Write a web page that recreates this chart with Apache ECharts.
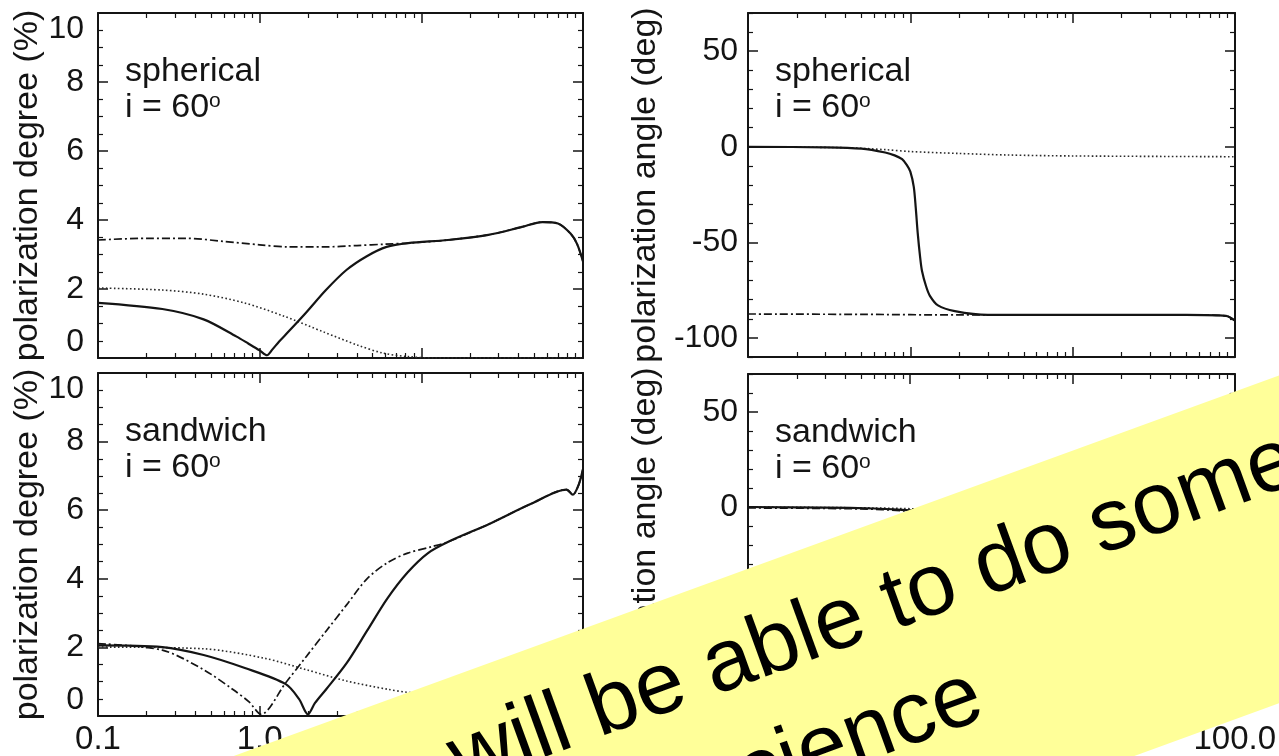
<!DOCTYPE html>
<html>
<head>
<meta charset="utf-8">
<script src="https://cdn.jsdelivr.net/npm/echarts@6/dist/echarts.min.js"></script>
<style>
  html, body { margin: 0; padding: 0; background: #ffffff; }
  #chart { width: 1279px; height: 756px; }
</style>
</head>
<body>
<div id="chart"></div>
<script>
// ---- axis ticks and labels ----
const xMajorTicks = [0.1, 1, 10, 100];
const xMinorTicks = [0.2, 0.3, 0.4, 0.5, 0.6, 0.7, 0.8, 0.9, 2, 3, 4, 5, 6, 7, 8, 9, 20, 30, 40, 50, 60, 70, 80, 90];
const degreeTicks = [0, 2, 4, 6, 8, 10];
const degreeMinorTicks = [0.5, 1, 1.5, 2.5, 3, 3.5, 4.5, 5, 5.5, 6.5, 7, 7.5, 8.5, 9, 9.5];
const angleTicks = [-100, -50, 0, 50];
const angleMinorTicks = [-110, -90, -80, -70, -60, -40, -30, -20, -10, 10, 20, 30, 40, 60, 70];

// ---- spherical geometry, polarization degree (%) ----
const sphDegreeSolid = [[0.1, 1.6], [0.25, 1.42], [0.45, 1.12], [0.72, 0.62], [0.85, 0.42], [1.0, 0.22], [1.11, 0.08], [1.2, 0.25], [1.32, 0.48], [1.45, 0.68], [1.94, 1.32], [2.57, 1.97], [3.44, 2.55], [4.6, 2.95], [6.1, 3.22], [8.3, 3.33], [14.6, 3.42], [26, 3.57], [42, 3.8], [56, 3.94], [70, 3.9], [84, 3.6], [92, 3.3], [100, 2.8]];
const sphDegreeDashDot = [[0.1, 3.42], [0.2, 3.47], [0.35, 3.47], [0.6, 3.38], [1.0, 3.28], [1.5, 3.22], [2.5, 3.22], [4, 3.26], [6, 3.3], [8.3, 3.33], [14.6, 3.42], [26, 3.57], [42, 3.8], [56, 3.94], [70, 3.9], [84, 3.6], [92, 3.3], [100, 2.8]];
const sphDegreeDotted = [[0.1, 2.03], [0.25, 1.97], [0.45, 1.85], [0.8, 1.6], [1.4, 1.22], [2.5, 0.75], [4, 0.38], [5.8, 0.14], [8.3, 0.04], [12, 0], [100, 0]];

// ---- spherical geometry, polarization angle (deg) ----
const sphAngleSolid = [[0.1, 0], [0.3, -0.3], [0.5, -1], [0.7, -3], [0.8, -4.5], [0.89, -6.5], [0.95, -9.5], [1.0, -13], [1.05, -21], [1.08, -32], [1.11, -45], [1.15, -58], [1.18, -65], [1.25, -73], [1.32, -78], [1.48, -83], [1.88, -86], [3, -88], [10, -88], [50, -88], [88, -88.5], [100, -91]];
const sphAngleDashDot = [[0.1, -87.5], [0.5, -87.7], [2, -88], [10, -88], [50, -88], [88, -88.5], [100, -91]];
const sphAngleDotted = [[0.1, 0], [0.4, -0.5], [0.7, -1.5], [1, -2.5], [2, -3.5], [4, -4.3], [10, -4.8], [100, -5.2]];

// ---- sandwich geometry, polarization degree (%) ----
const sandDegreeSolid = [[0.1, 2.06], [0.25, 2.01], [0.45, 1.78], [0.81, 1.4], [1.45, 0.93], [1.75, 0.5], [1.99, 0.05], [2.2, 0.38], [2.58, 0.78], [3.45, 1.54], [4.61, 2.48], [6.17, 3.43], [8.24, 4.19], [11, 4.75], [14.7, 5.08], [26.3, 5.6], [47, 6.17], [79, 6.6], [86.5, 6.45], [94, 6.74], [100, 7.2]];
const sandDegreeDashDot = [[0.1, 2.11], [0.25, 1.92], [0.45, 1.35], [0.68, 0.78], [0.86, 0.41], [1.02, 0.05], [1.45, 0.97], [1.94, 1.73], [2.58, 2.48], [3.45, 3.24], [4.61, 4.0], [6.17, 4.47], [8.24, 4.75], [11.7, 4.94], [14.7, 5.08], [26.3, 5.6], [47, 6.17], [79, 6.6], [86.5, 6.45], [94, 6.74], [100, 7.2]];
const sandDegreeDotted = [[0.1, 2.01], [0.45, 1.96], [1.08, 1.68], [1.94, 1.35], [3.45, 1.02], [6.17, 0.78], [8.24, 0.69], [12, 0.62]];

// ---- sandwich geometry, polarization angle (deg) ----
const sandAngleSolid = [[0.1, 0], [0.3, -0.3], [0.6, -0.8], [0.9, -1.5], [1.1, -2]];
const sandAngleDashDot = [[0.1, -0.5], [0.5, -1], [0.9, -2], [1.1, -3]];
const sandAngleDotted = [[0.1, 0], [0.6, -0.5], [1.1, -1]];

const FONT = '"Liberation Sans", Arial, Helvetica, sans-serif';
const INK = '#141414';

// four framed panels (2 x 2)
const panels = [
  { grid: { left: 98, top: 13, width: 485, height: 345 }, yMin: 0, yMax: 10, yMajor: degreeTicks, yMinor: degreeMinorTicks,
    yName: 'polarization degree (%)', nameGap: 50, labelMargin: 14, edgeAlign: true, xLabels: false,
    series: [sphDegreeDotted, sphDegreeDashDot, sphDegreeSolid], tag: 'spherical' },
  { grid: { left: 748, top: 13, width: 487, height: 344 }, yMin: -110, yMax: 70, yMajor: angleTicks, yMinor: angleMinorTicks,
    yName: 'polarization angle (deg)', nameGap: 85, labelMargin: 10, edgeAlign: false, xLabels: false,
    series: [sphAngleDotted, sphAngleDashDot, sphAngleSolid], tag: 'spherical' },
  { grid: { left: 98, top: 373, width: 485, height: 343 }, yMin: 0, yMax: 10, yMajor: degreeTicks, yMinor: degreeMinorTicks,
    yName: 'polarization degree (%)', nameGap: 50, labelMargin: 14, edgeAlign: true, xLabels: true,
    series: [sandDegreeDotted, sandDegreeDashDot, sandDegreeSolid], tag: 'sandwich' },
  { grid: { left: 748, top: 374, width: 487, height: 343 }, yMin: -110, yMax: 70, yMajor: angleTicks, yMinor: angleMinorTicks,
    yName: 'polarization angle (deg)', nameGap: 85, labelMargin: 10, edgeAlign: false, xLabels: true,
    series: [sandAngleDotted, sandAngleDashDot, sandAngleSolid], tag: 'sandwich' }
];

const frameLine = { show: true, onZero: false, lineStyle: { color: INK, width: 2 } };
const majorTick = (vals) => ({ show: true, inside: true, length: 10, customValues: vals, lineStyle: { color: INK, width: 1.5 } });
const minorTick = (vals) => ({ show: true, inside: true, length: 5, customValues: vals, lineStyle: { color: INK, width: 1.2 } });

const grids = [], xAxes = [], yAxes = [], series = [];

panels.forEach((p, gi) => {
  grids.push(p.grid);
  const xBase = { gridIndex: gi, type: 'log', logBase: 10, min: 0.1, max: 100, splitLine: { show: false } };
  // bottom frame: major + minor ticks
  xAxes.push(Object.assign({}, xBase, {
    position: 'bottom', axisLine: frameLine, axisTick: majorTick(xMajorTicks),
    axisLabel: { show: p.xLabels, customValues: xMajorTicks, formatter: (v) => Number(v).toFixed(1),
      fontSize: 33, fontFamily: FONT, color: INK, margin: 7 }
  }));
  xAxes.push(Object.assign({}, xBase, { position: 'bottom', axisLine: { show: false, onZero: false }, axisTick: minorTick(xMinorTicks), axisLabel: { show: false } }));
  // top frame
  xAxes.push(Object.assign({}, xBase, { position: 'top', axisLine: frameLine, axisTick: majorTick(xMajorTicks), axisLabel: { show: false } }));
  xAxes.push(Object.assign({}, xBase, { position: 'top', axisLine: { show: false, onZero: false }, axisTick: minorTick(xMinorTicks), axisLabel: { show: false } }));

  const yBase = { gridIndex: gi, type: 'value', min: p.yMin, max: p.yMax, splitLine: { show: false } };
  const yLabel = { show: true, customValues: p.yMajor, fontSize: 32, fontFamily: FONT, color: INK, margin: p.labelMargin };
  if (p.edgeAlign) { yLabel.verticalAlignMinLabel = 'bottom'; yLabel.verticalAlignMaxLabel = 'top'; }
  yAxes.push(Object.assign({}, yBase, {
    position: 'left', axisLine: frameLine, axisTick: majorTick(p.yMajor), axisLabel: yLabel,
    name: p.yName, nameLocation: 'middle', nameGap: p.nameGap,
    nameTextStyle: { fontSize: 34, fontFamily: FONT, color: INK }
  }));
  yAxes.push(Object.assign({}, yBase, { position: 'left', axisLine: { show: false, onZero: false }, axisTick: minorTick(p.yMinor), axisLabel: { show: false } }));
  yAxes.push(Object.assign({}, yBase, { position: 'right', axisLine: frameLine, axisTick: majorTick(p.yMajor), axisLabel: { show: false } }));
  yAxes.push(Object.assign({}, yBase, { position: 'right', axisLine: { show: false, onZero: false }, axisTick: minorTick(p.yMinor), axisLabel: { show: false } }));

  const styles = [
    { color: '#2a2a2a', width: 1.6, type: [1.6, 2.4] },        // dotted
    { color: INK, width: 1.7, type: [8, 3, 2, 3] },            // dash-dot
    { color: INK, width: 2.2, type: 'solid' }                  // solid
  ];
  p.series.forEach((data, si) => {
    series.push({
      type: 'line', xAxisIndex: gi * 4, yAxisIndex: gi * 4, data: data,
      showSymbol: false, smooth: 0.3, lineStyle: styles[si], z: 3 + si, silent: true
    });
  });
});

// panel captions
const captionStyle = { fontSize: 34, fontFamily: FONT, fill: INK, verticalAlign: 'middle', align: 'left' };
const captions = [];
panels.forEach((p) => {
  const x = p.grid.left + 27;
  const y0 = p.grid.top + 59;
  captions.push({ type: 'text', x: x, y: y0, z: 50, style: Object.assign({ text: p.tag }, captionStyle) });
  captions.push({ type: 'text', x: x, y: y0 + 36, z: 50, style: Object.assign({}, captionStyle, {
    text: '{a|i = 60}{s|o}',
    rich: { a: { fontSize: 34, fontFamily: FONT, fill: INK, lineHeight: 34 },
            s: { fontSize: 21, fontFamily: FONT, fill: INK, lineHeight: 21, verticalAlign: 'top' } }
  }) });
});

// yellow note strip laid across the lower half
const banner = {
  type: 'group', x: 1000, y: 641, rotation: 20 * Math.PI / 180, z: 100,
  children: [
    { type: 'rect', shape: { x: -1300, y: -154, width: 2200, height: 308 }, style: { fill: '#FFFF99' }, z: 100 },
    { type: 'text', x: -556, y: -71, z: 101, style: { text: 'will be able to do some', font: '88px ' + FONT, fill: '#000', verticalAlign: 'middle' } },
    { type: 'text', x: -336, y: 43, z: 101, style: { text: 'science', font: '88px ' + FONT, fill: '#000', verticalAlign: 'middle' } }
  ]
};

const chart = echarts.init(document.getElementById('chart'), null, { renderer: 'canvas' });
chart.setOption({
  animation: false,
  backgroundColor: '#ffffff',
  grid: grids,
  xAxis: xAxes,
  yAxis: yAxes,
  series: series,
  graphic: captions.concat([banner])
});
</script>
</body>
</html>
